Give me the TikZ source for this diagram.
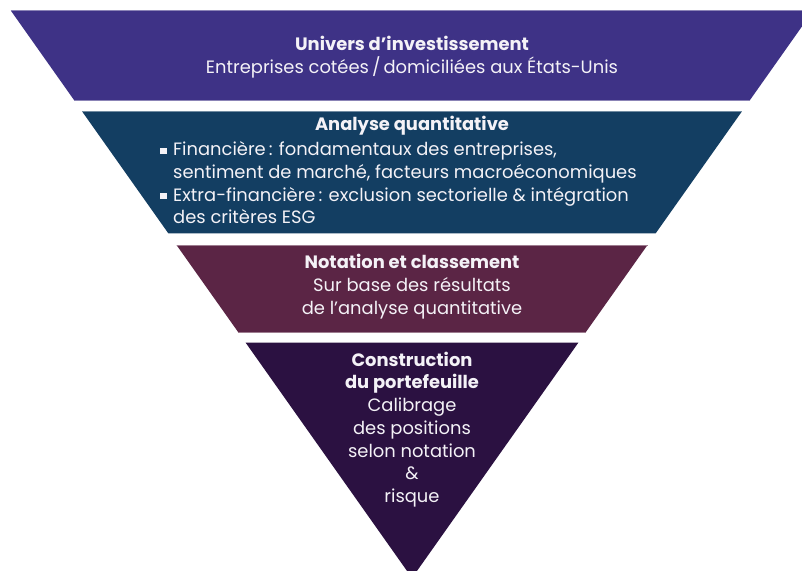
\documentclass[tikz,border=0pt]{standalone}
\usepackage{fontspec}
\setmainfont{Poppins}
\definecolor{bandA}{HTML}{3E3286}
\definecolor{bandB}{HTML}{133E62}
\definecolor{bandC}{HTML}{5B2545}
\definecolor{bandD}{HTML}{2B1141}
\definecolor{txtcol}{HTML}{F4F2F7}
\newcommand{\sqbul}{\makebox[13pt][l]{\raisebox{1.8pt}{\rule{6.5pt}{6.5pt}}}}
\begin{document}
\begin{tikzpicture}[x=1pt,y=-1pt,
  txt/.style={text=txtcol, font=\fontsize{17.9}{22.7}\selectfont, inner sep=0pt, align=center},
  edge/.style={line width=0.8pt}]
\clip (0,0) rectangle (802,570);
\fill[white] (0,0) rectangle (802,570);
% bands
\fill[bandA] (10.9,10.7) -- (813.1,10.7) -- (750,100) -- (74,100) -- cycle;
\fill[bandB] (82.3,111.7) -- (741.7,111.7) -- (655.7,233.3) -- (168.3,233.3) -- cycle;
\fill[bandC] (176.5,245) -- (647.5,245) -- (585.7,332.3) -- (238.3,332.3) -- cycle;
\fill[bandD] (245.6,342.6) -- (578.4,342.6) -- (412,578) -- cycle;
% light edges
\draw[edge,bandA!60!white] (10.9,10.7) -- (813.1,10.7);
\draw[edge,bandA!60!white] (74,100) -- (750,100);
\draw[edge,bandB!60!white] (82.3,111.7) -- (741.7,111.7);
\draw[edge,bandC!60!white] (176.5,245) -- (647.5,245);
\draw[edge,bandC!60!white] (238.3,332.3) -- (585.7,332.3);
% texts
\node[txt] (t1) at (412,57) {\textbf{Univers d’investissement}\\Entreprises cotées\,/\,domiciliées aux États-Unis};
\node[txt] (t2) at (412,126) {\textbf{Analyse quantitative}};
\node[txt, align=left, anchor=west] (t2b) at (160,183) {\sqbul Financière\,: fondamentaux des entreprises,\\
\hspace*{13pt}sentiment de marché, facteurs macroéconomiques\\
\sqbul Extra-financière\,: exclusion sectorielle \& intégration\\
\hspace*{13pt}des critères ESG};
\node[txt] (t3) at (412,286.5) {\textbf{Notation et classement}\\Sur base des résultats\\de l’analyse quantitative};
\node[txt] (t4) at (412,429.5) {\textbf{Construction}\\\textbf{du portefeuille}\\Calibrage\\des positions\\selon notation\\\&\\risque};
\end{tikzpicture}
\end{document}
